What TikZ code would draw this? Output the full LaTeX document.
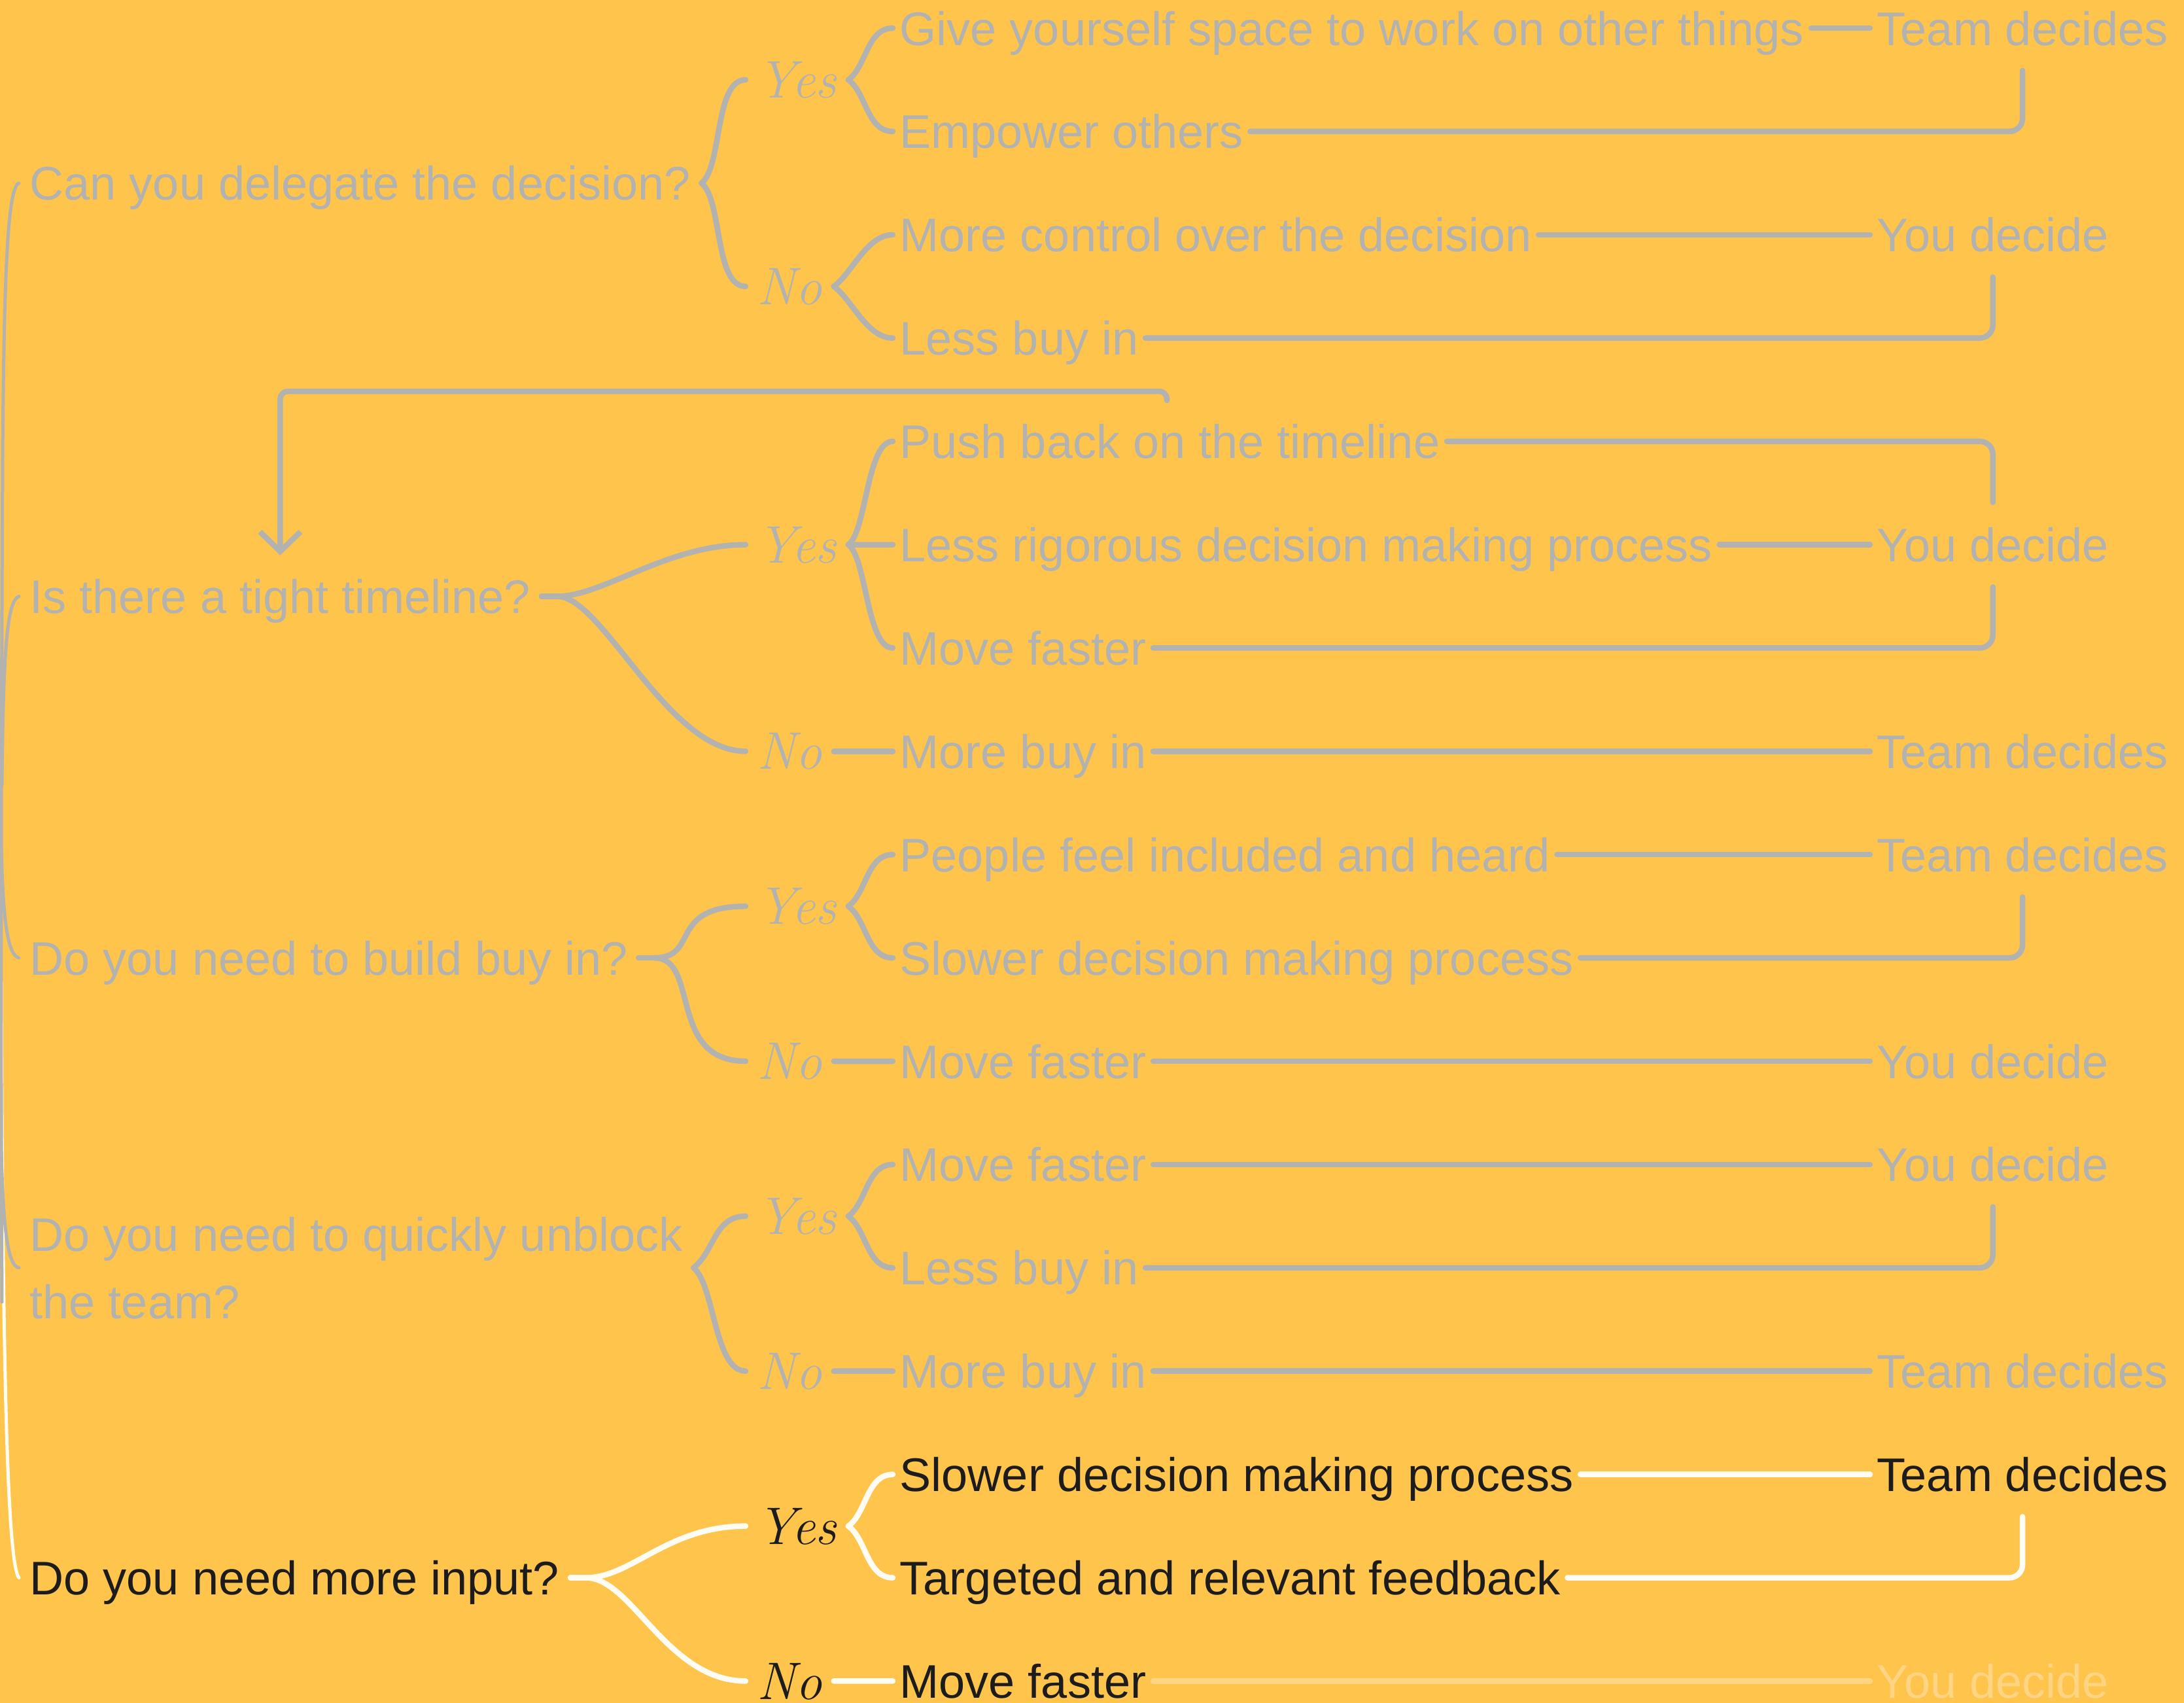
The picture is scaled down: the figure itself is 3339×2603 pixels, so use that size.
\documentclass[tikz,border=0pt]{standalone}
\usepackage{fontspec}
\setmainfont{Liberation Sans}
\usetikzlibrary{arrows.meta}

\definecolor{nen}{HTML}{FFC44C}
\definecolor{xam}{HTML}{B2B2B0}
\definecolor{den}{HTML}{1C1C1C}
\definecolor{trang}{HTML}{FFFCF4}
\definecolor{nhat}{HTML}{FFD584}

\begin{document}
\begin{tikzpicture}[x=0.01cm, y=-0.01cm]
    % Nền vàng và khung hình
    \useasboundingbox (0,0) rectangle (3339,2603);
    \fill[nen] (0,0) rectangle (3339,2603);

    % Kiểu chữ và kiểu đường
    \tikzset{
        c_chu/.style={inner ysep=0pt, font=\fontsize{20.5}{29.3}\selectfont},
        c_dong/.style={c_chu, anchor=west, inner xsep=0.1cm, text height=14.8pt, text depth=0pt},
        c_hoi/.style={c_dong, inner xsep=0.16cm},
        c_tay/.style={anchor=west, inner ysep=0pt, inner xsep=0.17cm, text height=15.7pt, text depth=0pt,
            font=\fontfamily{lmr}\fontshape{it}\fontsize{23}{28}\selectfont},
        c_xam/.style={draw=xam, line width=0.085cm, line cap=round},
        c_trang/.style={draw=trang, line width=0.085cm, line cap=round},
        c_goc/.style={rounded corners=0.2cm, shorten >=0.38cm}
    }

    % Các câu hỏi
    \node[c_hoi, text=xam] (q1) at (29,279.9) {Can you delegate the decision?};
    \node[c_hoi, text=xam] (q2) at (29,911.5) {Is there a tight timeline?};
    \node[c_hoi, text=xam] (q3) at (29,1464.1) {Do you need to build buy in?};
    \node[c_chu, anchor=west, inner xsep=0.16cm, align=left, text=xam] (q4) at (29,1937.8)
        {Do you need to quickly unblock\\the team?};
    \node[c_hoi, text=den] (q5) at (29,2411.5) {Do you need more input?};

    % Nhãn Yes / No viết tay
    \foreach \n/\yy/\t/\c in {y1/122/Yes/xam, n1/437.8/No/xam, y2/832.5/Yes/xam, n2/1148.3/No/xam,
        y3/1385.2/Yes/xam, n3/1622/No/xam, y4/1858.9/Yes/xam, n4/2095.7/No/xam,
        y5/2332.6/Yes/den, n5/2569.4/No/den}
        \node[c_tay, text=\c] (\n) at (1140,\yy) {\t};

    % Các phương án (cột giữa)
    \foreach \r/\t/\c in {1/Give yourself space to work on other things/xam, 2/Empower others/xam,
        3/More control over the decision/xam, 4/Less buy in/xam, 5/Push back on the timeline/xam,
        6/Less rigorous decision making process/xam, 7/Move faster/xam, 8/More buy in/xam,
        9/People feel included and heard/xam, 10/Slower decision making process/xam,
        11/Move faster/xam, 12/Move faster/xam, 13/Less buy in/xam, 14/More buy in/xam,
        15/Slower decision making process/den, 16/Targeted and relevant feedback/den, 17/Move faster/den}
        \node[c_dong, text=\c] (o\r) at (1365,{43+(\r-1)*157.9}) {\t};

    % Kết quả (cột phải)
    \foreach \r/\t/\c in {1/Team decides/xam, 3/You decide/xam, 6/You decide/xam, 8/Team decides/xam,
        9/Team decides/xam, 11/You decide/xam, 12/You decide/xam, 14/Team decides/xam,
        15/Team decides/den, 17/You decide/nhat}
        \node[c_dong, text=\c] (r\r) at (2859,{43+(\r-1)*157.9}) {\t};

    % Đường cong bên trái nối các câu hỏi
    \draw[c_trang, line width=0.05cm] (2,1500) .. controls (4,2050) and (10,2390) .. (q5.west);
    \draw[c_xam, line width=0.05cm] (q1.west) .. controls (10,285) and (6,450) .. (4,700)
        .. controls (2,1100) and (1,1600) .. (3,1990);
    \draw[c_xam, line width=0.05cm] (q2.west) .. controls (10,918) and (5,1000) .. (3,1200);
    \draw[c_xam, line width=0.05cm] (2,1300) .. controls (5,1410) and (12,1460) .. (q3.west);
    \draw[c_xam, line width=0.05cm] (2,1760) .. controls (5,1880) and (12,1935) .. (q4.west);

    % Ngoặc nhọn từ câu hỏi tới Yes / No
    \foreach \q/\y/\n in {q1/y1/n1, q4/y4/n4} {
        \draw[c_xam] (\q.east) .. controls +(32,-25) and +(-48,0) .. (\y.west);
        \draw[c_xam] (\q.east) .. controls +(32,25) and +(-48,0) .. (\n.west);
    }

    % Nhánh cong hình chữ S
    \foreach \q/\y/\n/\s in {q2/y2/n2/c_xam, q3/y3/n3/c_xam, q5/y5/n5/c_trang} {
        \draw[\s] (\q.east) -- ++(24,0) coordinate (t\q);
        \draw[\s] (t\q) .. controls +(70,0) and +(-120,0) .. (\y.west);
        \draw[\s] (t\q) .. controls +(70,0) and +(-120,0) .. (\n.west);
    }

    % Ngoặc nhọn từ Yes / No tới phương án
    \foreach \g/\a/\b/\s in {y1/o1/o2/c_xam, n1/o3/o4/c_xam, y2/o5/o7/c_xam, y3/o9/o10/c_xam,
        y4/o12/o13/c_xam, y5/o15/o16/c_trang} {
        \draw[\s] (\g.east) .. controls +(28,-20) and +(-40,0) .. (\a.west);
        \draw[\s] (\g.east) .. controls +(28,20) and +(-40,0) .. (\b.west);
    }
    \foreach \g/\a/\s in {y2/o6/c_xam, n2/o8/c_xam, n3/o11/c_xam, n4/o14/c_xam, n5/o17/c_trang}
        \draw[\s] (\g.east) -- (\a.west);

    % Đường thẳng nối phương án với kết quả
    \foreach \a/\b in {1/1, 3/3, 6/6, 8/8, 9/9, 11/11, 12/12, 14/14}
        \draw[c_xam] (o\a.east) -- (r\b.west);
    \draw[c_trang] (o15.east) -- (r15.west);
    \draw[c_xam, draw=nhat] (o17.east) -- (r17.west);

    % Đường gấp khúc lên / xuống tới kết quả
    \foreach \a/\b in {2/1, 4/3, 7/6, 10/9, 13/12}
        \draw[c_xam, c_goc] (o\a.east) -| (r\b.south);
    \draw[c_xam, c_goc] (o5.east) -| (r6.north);
    \draw[c_trang, c_goc] (o16.east) -| (r15.south);

    % Mũi tên quay lại câu hỏi thứ hai
    \coordinate (ve) at (1784,612);
    \draw[c_xam, rounded corners=0.12cm, shorten >=0.36cm, -{Straight Barb[length=0.3cm, width=0.62cm]}]
        (ve) -- ++(0,-14) -| (q2.north);
\end{tikzpicture}
\end{document}
